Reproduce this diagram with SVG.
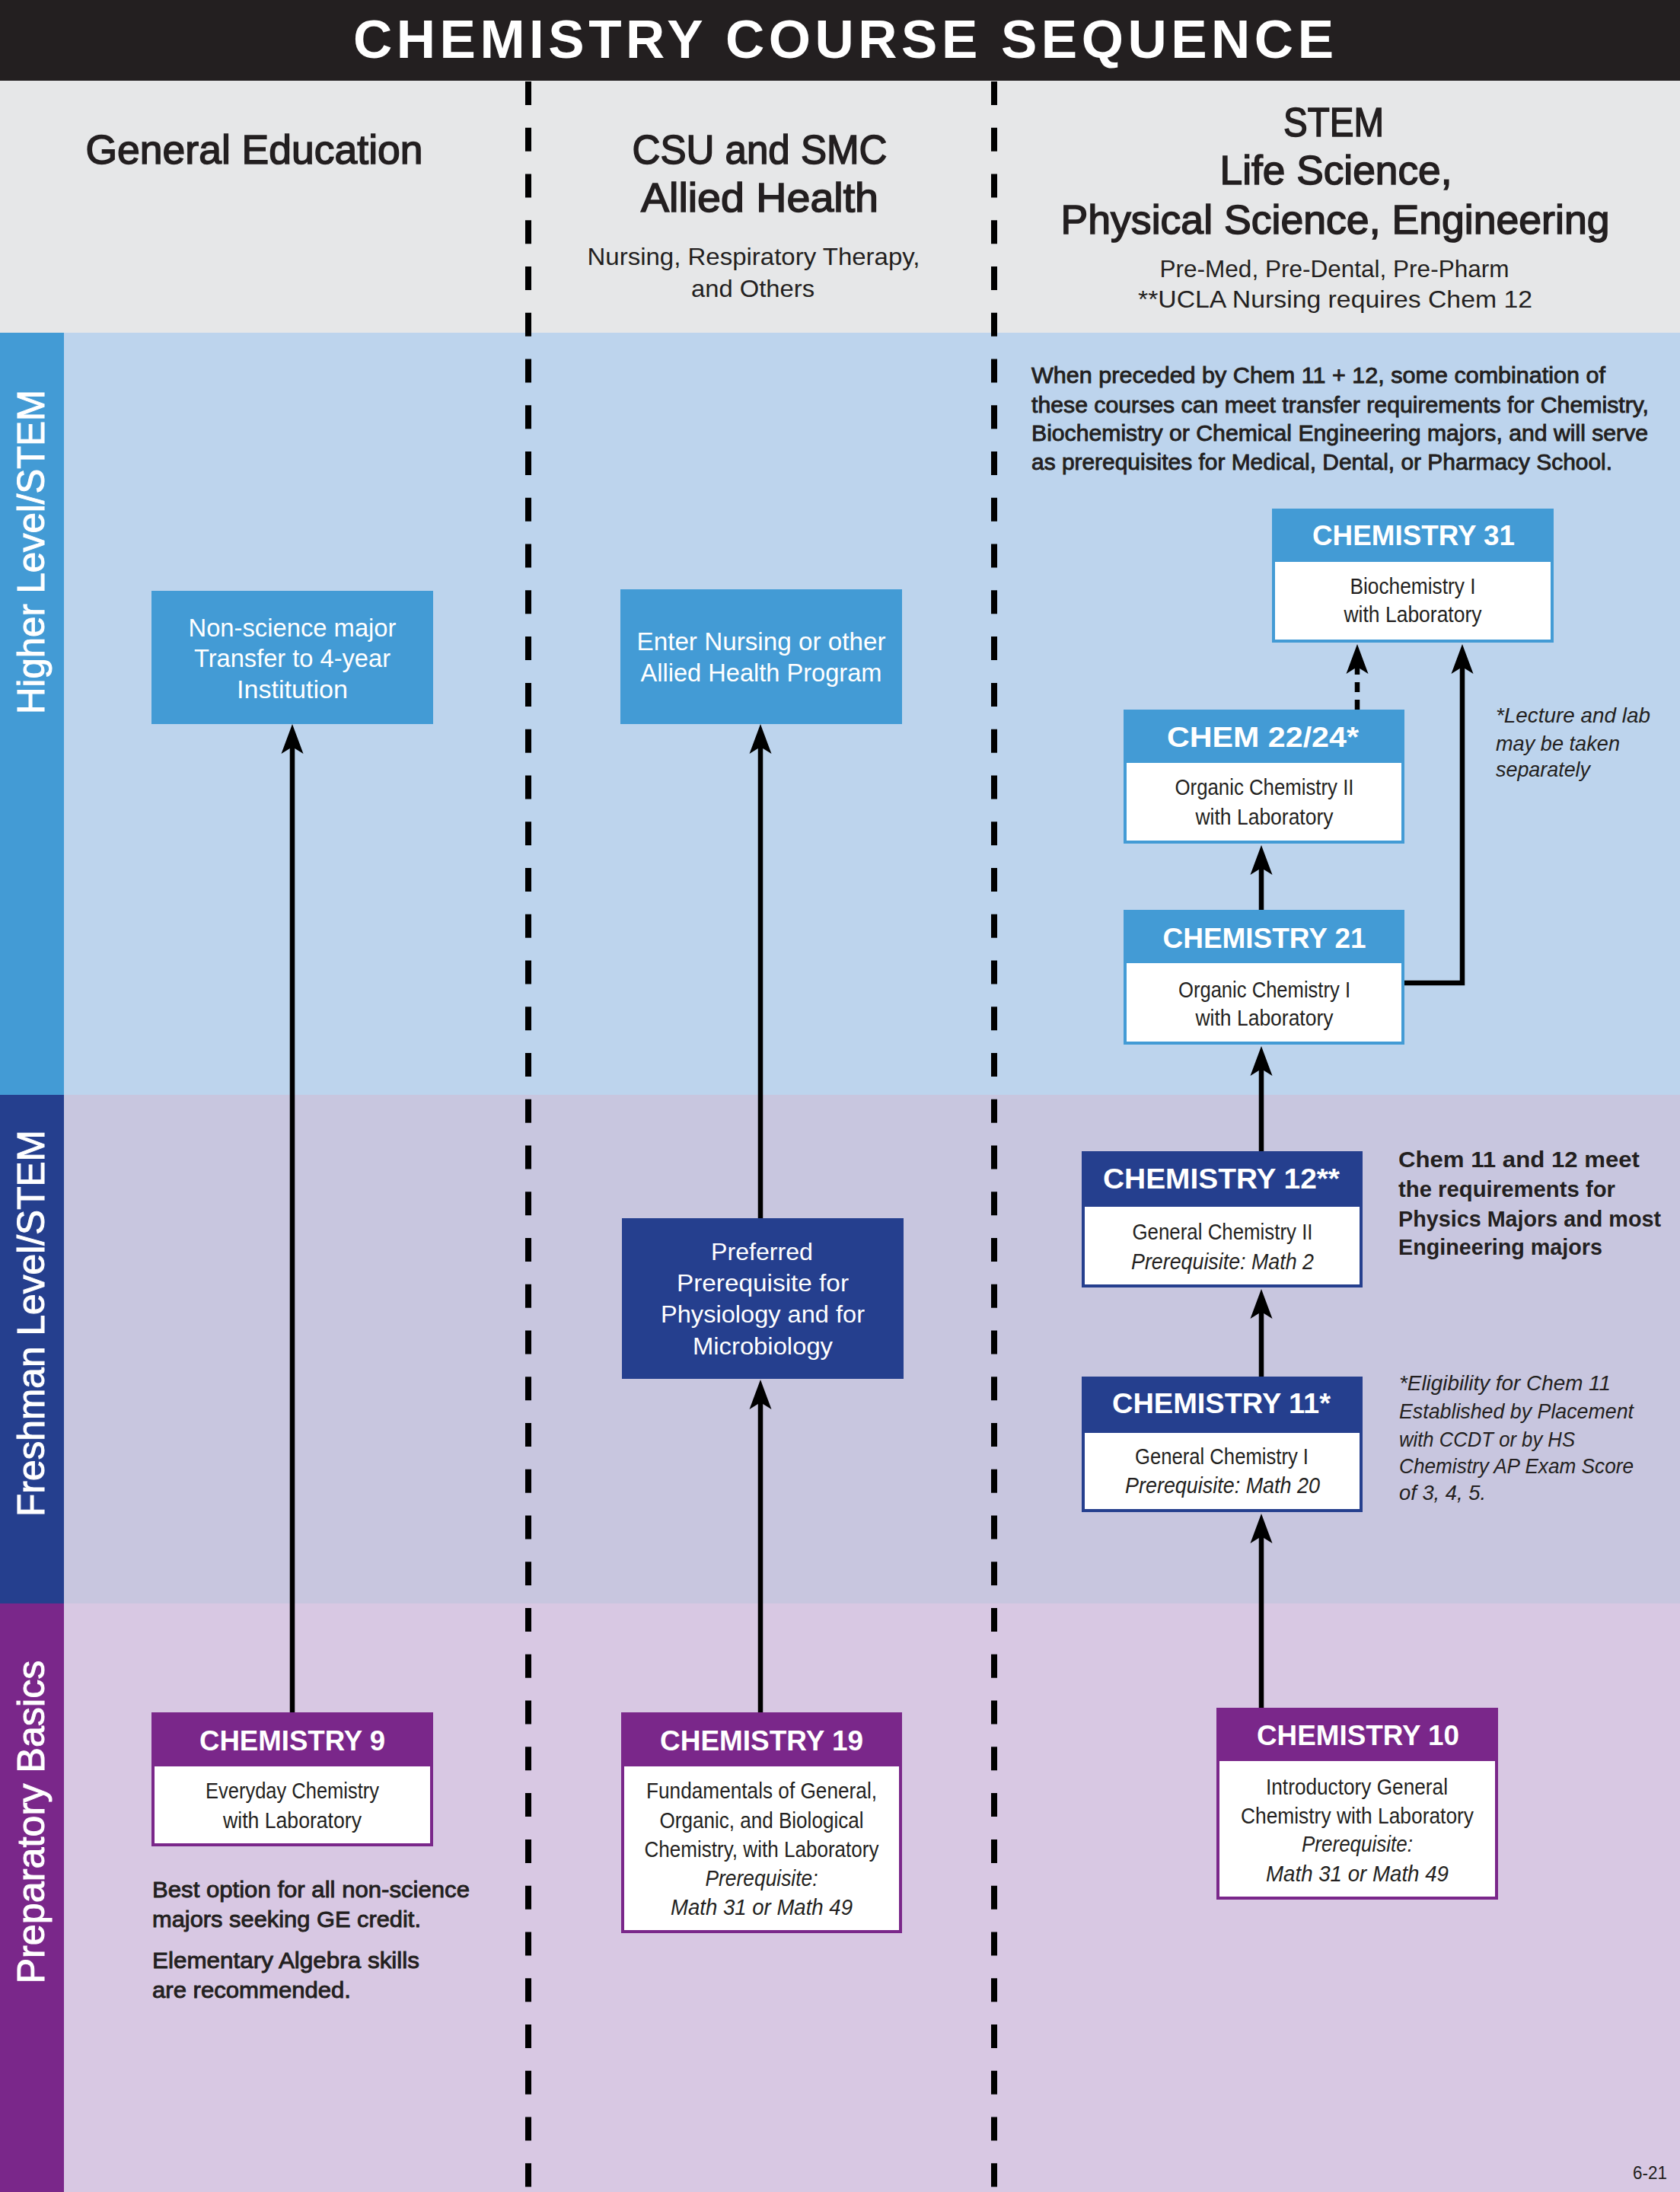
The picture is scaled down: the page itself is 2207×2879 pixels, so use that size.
<svg xmlns="http://www.w3.org/2000/svg" width="2207" height="2879" viewBox="0 0 2207 2879">
<style>
text{font-family:'Liberation Sans',Arial,'DejaVu Sans',sans-serif;fill:#231f20}
.title{font-weight:700;font-size:71px;fill:#fff;text-anchor:middle}
.colh{font-size:54px;text-anchor:middle;stroke:#231f20;stroke-width:1.6}
.colsub{font-size:32px;text-anchor:middle}
.band{font-size:50px;fill:#fff;text-anchor:middle;stroke:#fff;stroke-width:1}
.nh{font-weight:700;font-size:37px;fill:#fff;text-anchor:middle}
.nb{font-family:'Liberation Sans Narrow','Liberation Sans',Arial,sans-serif;font-size:30px;text-anchor:middle}
.it{font-style:italic}
.wb{font-family:'Liberation Sans Narrow','Liberation Sans',Arial,sans-serif;font-size:34px;fill:#fff;text-anchor:middle}
.pb{font-size:32px;fill:#fff;text-anchor:middle}
.note{font-size:30px;stroke:#231f20;stroke-width:0.9}
.noteb{font-size:30px;font-weight:700}
.notei{font-size:28px;font-style:italic}
.notec{font-family:'Liberation Sans Narrow','Liberation Sans',Arial,sans-serif;font-size:28px;font-style:italic}
.small{font-size:24px}
.lb{fill:#439bd5}.db{fill:#253f8e}.pu{fill:#7a278a}
.blb{fill:#fff;stroke:#439bd5;stroke-width:4}
.bdb{fill:#fff;stroke:#253f8e;stroke-width:4}
.bpu{fill:#fff;stroke:#7a278a;stroke-width:4}
.conn{stroke:#000;stroke-width:6.5;fill:none;marker-end:url(#ah)}
.coldiv{stroke:#000;stroke-width:8;stroke-dasharray:31 29.76}
</style>
<defs>
<marker id="ah" markerUnits="userSpaceOnUse" markerWidth="40" markerHeight="30" viewBox="0 0 40 30" refX="11" refY="15" orient="auto">
<path d="M0,0.5 L39,15 L0,29.5 L9,15 Z" fill="#000"/>
</marker>
</defs>

<g id="background">
<rect x="0" y="0" width="2207" height="106" fill="#231f20"/>
<rect x="0" y="106" width="2207" height="331" fill="#e6e7e8"/>
<rect x="0" y="437" width="2207" height="1001" fill="#bdd4ed"/>
<rect x="0" y="1438" width="2207" height="668" fill="#c8c6df"/>
<rect x="0" y="2106" width="2207" height="773" fill="#d8c8e3"/>
<rect x="0" y="437" width="84" height="1001" class="lb"/>
<rect x="0" y="1438" width="84" height="668" class="db"/>
<rect x="0" y="2106" width="84" height="773" class="pu"/>
<line x1="694" y1="107" x2="694" y2="2879" class="coldiv"/>
<line x1="1306" y1="107" x2="1306" y2="2879" class="coldiv"/>
</g>

<g id="header">
<text x="1108" y="76" class="title" textLength="1288" lengthAdjust="spacing">CHEMISTRY COURSE SEQUENCE</text>
<text x="334" y="215" class="colh" textLength="443" lengthAdjust="spacingAndGlyphs">General Education</text>
<text x="998" y="215" class="colh" textLength="335" lengthAdjust="spacingAndGlyphs">CSU and SMC</text>
<text x="998" y="278" class="colh" textLength="312" lengthAdjust="spacingAndGlyphs">Allied Health</text>
<text x="990" y="348" class="colsub" textLength="437" lengthAdjust="spacingAndGlyphs">Nursing, Respiratory Therapy,</text>
<text x="989" y="390" class="colsub" textLength="162" lengthAdjust="spacingAndGlyphs">and Others</text>
<text x="1752" y="179" class="colh" textLength="132" lengthAdjust="spacingAndGlyphs">STEM</text>
<text x="1755" y="242" class="colh" textLength="305" lengthAdjust="spacingAndGlyphs">Life Science,</text>
<text x="1754" y="307" class="colh" textLength="721" lengthAdjust="spacingAndGlyphs">Physical Science, Engineering</text>
<text x="1753" y="364" class="colsub" textLength="459" lengthAdjust="spacingAndGlyphs">Pre-Med, Pre-Dental, Pre-Pharm</text>
<text x="1754" y="404" class="colsub" textLength="518" lengthAdjust="spacingAndGlyphs">**UCLA Nursing requires Chem 12</text>
</g>

<g id="band-labels">
<text x="58" y="725" class="band" transform="rotate(-90 58 725)" textLength="426" lengthAdjust="spacingAndGlyphs">Higher Level/STEM</text>
<text x="58" y="1738" class="band" transform="rotate(-90 58 1738)" textLength="508" lengthAdjust="spacingAndGlyphs">Freshman Level/STEM</text>
<text x="58" y="2393" class="band" transform="rotate(-90 58 2393)" textLength="425" lengthAdjust="spacingAndGlyphs">Preparatory Basics</text>
</g>

<g id="connectors">
<line x1="384" y1="2249" x2="384" y2="979" class="conn"/>
<line x1="999" y1="2249" x2="999" y2="1840" class="conn"/>
<line x1="999" y1="1600" x2="999" y2="979" class="conn"/>
<line x1="1657" y1="2243" x2="1657" y2="2016" class="conn"/>
<line x1="1657" y1="1808" x2="1657" y2="1721" class="conn"/>
<line x1="1657" y1="1512" x2="1657" y2="1402" class="conn"/>
<line x1="1657" y1="1195" x2="1657" y2="1138" class="conn"/>
<line x1="1783" y1="932" x2="1783" y2="874" class="conn" stroke-dasharray="13 10"/>
<polyline points="1845,1291 1921,1291 1921,874" class="conn"/>
</g>

<g id="node-nonscience">
<rect x="199" y="776" width="370" height="175" class="lb"/>
<text x="384" y="836" class="wb" textLength="273" lengthAdjust="spacingAndGlyphs">Non-science major</text>
<text x="384" y="876" class="wb" textLength="258" lengthAdjust="spacingAndGlyphs">Transfer to 4-year</text>
<text x="384" y="917" class="wb" textLength="146" lengthAdjust="spacingAndGlyphs">Institution</text>
</g>

<g id="node-nursing">
<rect x="815" y="774" width="370" height="177" class="lb"/>
<text x="1000" y="854" class="wb" textLength="327" lengthAdjust="spacingAndGlyphs">Enter Nursing or other</text>
<text x="1000" y="895" class="wb" textLength="317" lengthAdjust="spacingAndGlyphs">Allied Health Program</text>
</g>

<g id="node-preferred">
<rect x="817" y="1600" width="370" height="211" class="db"/>
<text x="1001" y="1655" class="pb" textLength="134" lengthAdjust="spacingAndGlyphs">Preferred</text>
<text x="1002" y="1696" class="pb" textLength="226" lengthAdjust="spacingAndGlyphs">Prerequisite for</text>
<text x="1002" y="1737" class="pb" textLength="268" lengthAdjust="spacingAndGlyphs">Physiology and for</text>
<text x="1002" y="1779" class="pb" textLength="184" lengthAdjust="spacingAndGlyphs">Microbiology</text>
</g>

<g id="node-chem9">
<rect x="201" y="2251" width="366" height="172" class="bpu"/>
<rect x="199" y="2249" width="370" height="71" class="pu"/>
<text x="384" y="2299" class="nh" textLength="244" lengthAdjust="spacingAndGlyphs">CHEMISTRY 9</text>
<text x="384" y="2362" class="nb" textLength="228" lengthAdjust="spacingAndGlyphs">Everyday Chemistry</text>
<text x="384" y="2401" class="nb" textLength="182" lengthAdjust="spacingAndGlyphs">with Laboratory</text>
</g>

<g id="note-chem9">
<text x="200" y="2492" class="note" textLength="417" lengthAdjust="spacingAndGlyphs">Best option for all non-science</text>
<text x="200" y="2531" class="note" textLength="353" lengthAdjust="spacingAndGlyphs">majors seeking GE credit.</text>
<text x="200" y="2585" class="note" textLength="351" lengthAdjust="spacingAndGlyphs">Elementary Algebra skills</text>
<text x="200" y="2624" class="note" textLength="261" lengthAdjust="spacingAndGlyphs">are recommended.</text>
</g>

<g id="node-chem19">
<rect x="818" y="2251" width="365" height="286" class="bpu"/>
<rect x="816" y="2249" width="369" height="71" class="pu"/>
<text x="1000.5" y="2299" class="nh" textLength="267" lengthAdjust="spacingAndGlyphs">CHEMISTRY 19</text>
<text x="1000.5" y="2362" class="nb" textLength="303" lengthAdjust="spacingAndGlyphs">Fundamentals of General,</text>
<text x="1000.5" y="2401" class="nb" textLength="268" lengthAdjust="spacingAndGlyphs">Organic, and Biological</text>
<text x="1000.5" y="2439" class="nb" textLength="308" lengthAdjust="spacingAndGlyphs">Chemistry, with Laboratory</text>
<text x="1000.5" y="2477" class="nb it" textLength="148" lengthAdjust="spacingAndGlyphs">Prerequisite:</text>
<text x="1000.5" y="2515" class="nb it" textLength="239" lengthAdjust="spacingAndGlyphs">Math 31 or Math 49</text>
</g>

<g id="note-stem">
<text x="1355" y="503" class="note" textLength="754" lengthAdjust="spacingAndGlyphs">When preceded by Chem 11 + 12, some combination of</text>
<text x="1355" y="542" class="note" textLength="811" lengthAdjust="spacingAndGlyphs">these courses can meet transfer requirements for Chemistry,</text>
<text x="1355" y="579" class="note" textLength="810" lengthAdjust="spacingAndGlyphs">Biochemistry or Chemical Engineering majors, and will serve</text>
<text x="1355" y="617" class="note" textLength="763" lengthAdjust="spacingAndGlyphs">as prerequisites for Medical, Dental, or Pharmacy School.</text>
</g>

<g id="node-chem31">
<rect x="1673" y="670" width="366" height="172" class="blb"/>
<rect x="1671" y="668" width="370" height="70" class="lb"/>
<text x="1857" y="716" class="nh" textLength="266" lengthAdjust="spacingAndGlyphs">CHEMISTRY 31</text>
<text x="1856" y="780" class="nb" textLength="165" lengthAdjust="spacingAndGlyphs">Biochemistry I</text>
<text x="1856" y="817" class="nb" textLength="181" lengthAdjust="spacingAndGlyphs">with Laboratory</text>
</g>

<g id="note-lecture">
<text x="1965" y="949" class="notec" textLength="203" lengthAdjust="spacingAndGlyphs">*Lecture and lab</text>
<text x="1965" y="986" class="notec" textLength="163" lengthAdjust="spacingAndGlyphs">may be taken</text>
<text x="1965" y="1020" class="notec" textLength="124" lengthAdjust="spacingAndGlyphs">separately</text>
</g>

<g id="node-chem2224">
<rect x="1478" y="934" width="365" height="172" class="blb"/>
<rect x="1476" y="932" width="369" height="70" class="lb"/>
<text x="1659" y="981" class="nh" textLength="252" lengthAdjust="spacingAndGlyphs">CHEM 22/24*</text>
<text x="1661" y="1044" class="nb" textLength="235" lengthAdjust="spacingAndGlyphs">Organic Chemistry II</text>
<text x="1661" y="1083" class="nb" textLength="181" lengthAdjust="spacingAndGlyphs">with Laboratory</text>
</g>

<g id="node-chem21">
<rect x="1478" y="1197" width="365" height="173" class="blb"/>
<rect x="1476" y="1195" width="369" height="70" class="lb"/>
<text x="1661" y="1245" class="nh" textLength="267" lengthAdjust="spacingAndGlyphs">CHEMISTRY 21</text>
<text x="1661" y="1310" class="nb" textLength="226" lengthAdjust="spacingAndGlyphs">Organic Chemistry I</text>
<text x="1661" y="1347" class="nb" textLength="181" lengthAdjust="spacingAndGlyphs">with Laboratory</text>
</g>

<g id="node-chem12">
<rect x="1423" y="1514" width="365" height="175" class="bdb"/>
<rect x="1421" y="1512" width="369" height="73" class="db"/>
<text x="1604.5" y="1561" class="nh" textLength="311" lengthAdjust="spacingAndGlyphs">CHEMISTRY 12**</text>
<text x="1606" y="1628" class="nb" textLength="237" lengthAdjust="spacingAndGlyphs">General Chemistry II</text>
<text x="1606" y="1667" class="nb it" textLength="240" lengthAdjust="spacingAndGlyphs">Prerequisite: Math 2</text>
</g>

<g id="note-chem12">
<text x="1837" y="1533" class="noteb" textLength="317" lengthAdjust="spacingAndGlyphs">Chem 11 and 12 meet</text>
<text x="1837" y="1572" class="noteb" textLength="285" lengthAdjust="spacingAndGlyphs">the requirements for</text>
<text x="1837" y="1611" class="noteb" textLength="345" lengthAdjust="spacingAndGlyphs">Physics Majors and most</text>
<text x="1837" y="1648" class="noteb" textLength="268" lengthAdjust="spacingAndGlyphs">Engineering majors</text>
</g>

<g id="node-chem11">
<rect x="1423" y="1810" width="365" height="174" class="bdb"/>
<rect x="1421" y="1808" width="369" height="74" class="db"/>
<text x="1604.5" y="1856" class="nh" textLength="287" lengthAdjust="spacingAndGlyphs">CHEMISTRY 11*</text>
<text x="1605" y="1923" class="nb" textLength="228" lengthAdjust="spacingAndGlyphs">General Chemistry I</text>
<text x="1606" y="1961" class="nb it" textLength="256" lengthAdjust="spacingAndGlyphs">Prerequisite: Math 20</text>
</g>

<g id="note-chem11">
<text x="1838" y="1826" class="notei" textLength="278" lengthAdjust="spacingAndGlyphs">*Eligibility for Chem 11</text>
<text x="1838" y="1863" class="notei" textLength="308" lengthAdjust="spacingAndGlyphs">Established by Placement</text>
<text x="1838" y="1900" class="notei" textLength="231" lengthAdjust="spacingAndGlyphs">with CCDT or by HS</text>
<text x="1838" y="1935" class="notei" textLength="308" lengthAdjust="spacingAndGlyphs">Chemistry AP Exam Score</text>
<text x="1838" y="1970" class="notei" textLength="114" lengthAdjust="spacingAndGlyphs">of 3, 4, 5.</text>
</g>

<g id="node-chem10">
<rect x="1600" y="2245" width="366" height="248" class="bpu"/>
<rect x="1598" y="2243" width="370" height="70" class="pu"/>
<text x="1784" y="2292" class="nh" textLength="266" lengthAdjust="spacingAndGlyphs">CHEMISTRY 10</text>
<text x="1782.5" y="2357" class="nb" textLength="239" lengthAdjust="spacingAndGlyphs">Introductory General</text>
<text x="1783" y="2395" class="nb" textLength="306" lengthAdjust="spacingAndGlyphs">Chemistry with Laboratory</text>
<text x="1783" y="2432" class="nb it" textLength="146" lengthAdjust="spacingAndGlyphs">Prerequisite:</text>
<text x="1783" y="2471" class="nb it" textLength="240" lengthAdjust="spacingAndGlyphs">Math 31 or Math 49</text>
</g>

<g id="footer">
<text x="2145" y="2862" class="small" textLength="45" lengthAdjust="spacingAndGlyphs">6-21</text>
</g>
</svg>
